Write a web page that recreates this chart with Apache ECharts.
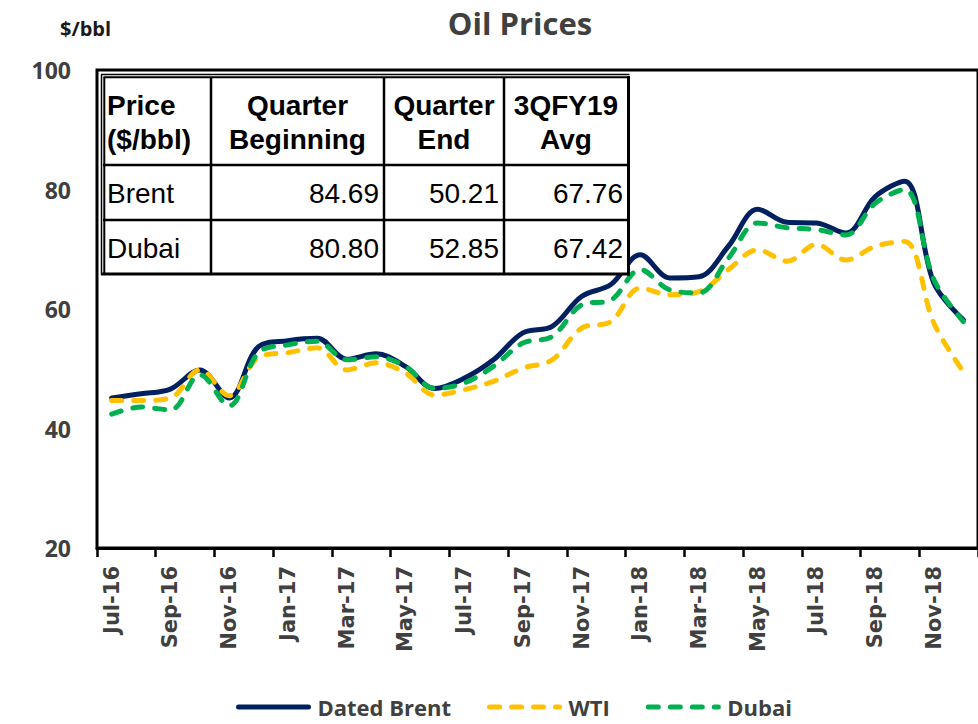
<!DOCTYPE html>
<html>
<head>
<meta charset="utf-8">
<script src="https://cdn.jsdelivr.net/npm/echarts@6/dist/echarts.min.js"></script>
<style>
html,body{margin:0;padding:0;background:#fff;}
#chart{width:978px;height:724px;}
</style>
</head>
<body>
<div id="chart"></div>
<script>
// ---- data ----
const months = ["Jul-16","Aug-16","Sep-16","Oct-16","Nov-16","Dec-16",
  "Jan-17","Feb-17","Mar-17","Apr-17","May-17","Jun-17",
  "Jul-17","Aug-17","Sep-17","Oct-17","Nov-17","Dec-17",
  "Jan-18","Feb-18","Mar-18","Apr-18","May-18","Jun-18",
  "Jul-18","Aug-18","Sep-18","Oct-18","Nov-18","Dec-18"];
const datedBrent = [45.1,45.8,46.6,49.8,45.1,53.7,54.7,55.1,51.6,52.5,50.4,46.7,
  48.4,51.5,56.0,57.1,62.1,64.1,69.1,65.2,65.4,70.5,76.7,74.5,74.4,72.7,78.8,81.4,64.3,58.2];
const wti = [44.7,44.7,45.1,49.8,45.5,51.9,52.7,53.5,49.8,51.0,49.3,45.6,
  46.5,47.9,50.1,51.5,56.8,57.9,63.5,62.4,62.9,66.6,69.9,68.0,70.8,68.2,70.5,71.3,57.6,49.5];
const dubai = [42.4,43.6,43.1,49.0,43.8,52.7,54.0,54.6,51.5,52.0,50.4,46.7,
  47.6,50.4,54.3,55.4,60.7,61.5,66.6,63.2,62.7,68.5,74.4,73.6,73.3,72.4,77.7,80.0,64.9,57.9];
const seriesNames = ["Dated Brent","WTI","Dubai"];
const yTicks = [20,40,60,80,100];

const tableHeader = [["Price","($/bbl)"],["Quarter","Beginning"],["Quarter","End"],["3QFY19","Avg"]];
const tableRowNames = ["Brent","Dubai"];
const tableValues = [[84.69,50.21,67.76],[80.80,52.85,67.42]];

const chartTitle = "Oil Prices";
const unitLabel = "$/bbl";

// ---- layout / style ----
const colEdges = [102, 211, 384, 504, 628];
const rowEdges = [76, 165, 220, 274];
const tableFont = "'Liberation Sans', Arial, sans-serif";
const uiFont = "'Open Sans', sans-serif";

const chart = echarts.init(document.getElementById('chart'), null, {renderer:'svg'});

const graphics = [];
graphics.push({type:'rect', z:100, shape:{x:colEdges[0], y:rowEdges[0], width:colEdges[4]-colEdges[0], height:rowEdges[3]-rowEdges[0]},
  style:{fill:'#fff', stroke:null}});
graphics.push({type:'line', z:101, shape:{x1:101.5,y1:74.5,x2:101.5,y2:275}, style:{stroke:'#000',lineWidth:1.5}});
graphics.push({type:'line', z:101, shape:{x1:101,y1:74.5,x2:629.5,y2:74.5}, style:{stroke:'#000',lineWidth:1.5}});
graphics.push({type:'line', z:101, shape:{x1:104.3,y1:77,x2:104.3,y2:275}, style:{stroke:'#000',lineWidth:2}});
graphics.push({type:'line', z:101, shape:{x1:103.5,y1:77.3,x2:629.5,y2:77.3}, style:{stroke:'#000',lineWidth:2}});
graphics.push({type:'line', z:101, shape:{x1:628.5,y1:76,x2:628.5,y2:275.5}, style:{stroke:'#000',lineWidth:3}});
graphics.push({type:'line', z:101, shape:{x1:101,y1:274,x2:630,y2:274}, style:{stroke:'#000',lineWidth:3}});
for (let i=1;i<4;i++){
  graphics.push({type:'line', z:101, shape:{x1:colEdges[i],y1:77,x2:colEdges[i],y2:274}, style:{stroke:'#000',lineWidth:2.5}});
}
for (let j=1;j<3;j++){
  graphics.push({type:'line', z:101, shape:{x1:103,y1:rowEdges[j],x2:628,y2:rowEdges[j]}, style:{stroke:'#000',lineWidth:2.5}});
}
tableHeader.forEach((h,i)=>{
  const left = i===0;
  graphics.push({type:'text', z:102, style:{
    text:h.join('\n'), x: left ? colEdges[0]+5 : (colEdges[i]+colEdges[i+1])/2, y:(rowEdges[0]+rowEdges[1])/2+2,
    textAlign: left ? 'left':'center', textVerticalAlign:'middle', lineHeight:34,
    font:"bold 28px "+tableFont, fill:'#000'}});
});
tableRowNames.forEach((n,r)=>{
  const cy = (rowEdges[r+1]+rowEdges[r+2])/2+1;
  graphics.push({type:'text', z:102, style:{text:n, x:colEdges[0]+5, y:cy, textAlign:'left', textVerticalAlign:'middle',
    font:"28px "+tableFont, fill:'#000'}});
  tableValues[r].forEach((v,c)=>{
    graphics.push({type:'text', z:102, style:{text:v.toFixed(2), x:colEdges[c+2]-5, y:cy, textAlign:'right', textVerticalAlign:'middle',
      font:"28px "+tableFont, fill:'#000'}});
  });
});
graphics.push({type:'text', z:102, style:{text:chartTitle, x:520, y:23, textAlign:'center', textVerticalAlign:'middle',
  font:"bold 31px "+uiFont, fill:'#404040'}});
graphics.push({type:'text', z:102, style:{text:unitLabel, x:60, y:28, textAlign:'left', textVerticalAlign:'middle',
  font:"bold 20px "+uiFont, fill:'#1a1a1a'}});

const colors = ['#002060','#FFC000','#00B050'];
const dataSets = [datedBrent, wti, dubai];

chart.setOption({
  animation:false,
  backgroundColor:'#fff',
  grid:{left:97, right:-4, top:70, bottom:176, show:true, borderColor:'#000', borderWidth:3},
  legend:{
    left:236, top:696, itemWidth:70, itemHeight:22, itemGap:36, padding:0,
    data:seriesNames,
    itemStyle:{opacity:0, borderWidth:0},
    lineStyle:{width:5, cap:'round'},
    textStyle:{fontFamily:uiFont, fontWeight:'bold', fontSize:22, lineHeight:22, color:'#404040', padding:[0,0,0,4]}
  },
  xAxis:{
    type:'category', data:months, boundaryGap:true,
    axisLine:{show:true, lineStyle:{color:'#000', width:3}},
    axisTick:{show:true, interval:1, length:9, lineStyle:{color:'#000', width:2.5}},
    axisLabel:{interval:1, rotate:90, margin:18, fontFamily:'DejaVu Sans', fontWeight:'bold', fontSize:21, color:'#404040'},
    splitLine:{show:false}
  },
  yAxis:{
    type:'value', min:yTicks[0], max:yTicks[yTicks.length-1], interval:20,
    axisLine:{show:false}, axisTick:{show:false}, splitLine:{show:false},
    axisLabel:{margin:26, fontFamily:uiFont, fontWeight:'bold', fontSize:23, color:'#404040'}
  },
  series: seriesNames.map((n,i)=>({
    name:n, type:'line', data:dataSets[i], smooth:0.35, symbol:'none', showSymbol:false,
    color:colors[i],
    lineStyle:{color:colors[i], width:5, type: i===0 ? 'solid' : [10,12], cap:'round'},
    z: 2+i
  })),
  graphic: graphics
});
</script>
</body>
</html>
